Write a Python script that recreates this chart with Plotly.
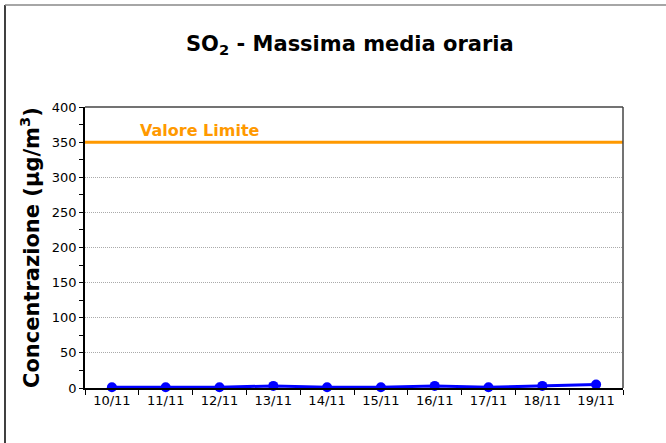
import plotly.graph_objects as go

dates = ["10/11", "11/11", "12/11", "13/11", "14/11", "15/11", "16/11", "17/11", "18/11", "19/11"]
so2_values = [1, 1, 1, 3, 1, 1, 3, 1, 3, 5]
limit_value = 350
limit_label = "Valore Limite"
title_text = "SO<sub>2</sub> - Massima media oraria"
y_title = "Concentrazione (µg/m<sup>3</sup>)"

idx = list(range(len(dates)))
font_family = "DejaVu Sans, Verdana, sans-serif"

fig = go.Figure()
fig.add_trace(go.Scatter(
    x=[-0.5, len(dates) - 0.5], y=[limit_value, limit_value],
    mode="lines", line=dict(color="#FF9900", width=3),
    hoverinfo="skip", showlegend=False, cliponaxis=False))
fig.add_trace(go.Scatter(
    x=idx, y=so2_values, mode="lines+markers",
    line=dict(color="#0000FF", width=3),
    marker=dict(color="#0000FF", size=10),
    showlegend=False, cliponaxis=False))

fig.update_layout(
    width=666, height=443,
    margin=dict(l=85, r=43, t=107, b=55),
    paper_bgcolor="white", plot_bgcolor="white",
    font=dict(family=font_family, size=13, color="black"),
    xaxis=dict(
        range=[-0.5, len(dates) - 0.5],
        tickmode="array", tickvals=idx, ticktext=dates,
        ticks="", showgrid=False, zeroline=False,
        showline=True, linecolor="black", linewidth=1.5,
        tickfont=dict(size=13, family=font_family),
        minor=dict(ticks="outside", tick0=-0.5, dtick=1, ticklen=5, tickcolor="black", showgrid=False),
        mirror=False,
    ),
    yaxis=dict(
        range=[0, 400], dtick=50, tick0=0,
        ticks="outside", ticklen=4, tickcolor="black",
        showgrid=True, gridcolor="#AAAAAA", griddash="1px,1px", gridwidth=1,
        zeroline=False,
        showline=True, linecolor="black", linewidth=1.5,
        tickfont=dict(size=13, family=font_family),
        minor=dict(ticks="outside", dtick=25, ticklen=4, tickcolor="black", showgrid=False),
    ),
    shapes=[
        dict(type="line", xref="paper", yref="paper", x0=0, x1=1, y0=1, y1=1,
             line=dict(color="#444444", width=1.5)),
        dict(type="line", xref="paper", yref="paper", x0=1, x1=1, y0=0, y1=1,
             line=dict(color="#444444", width=1.5)),
        dict(type="line", xref="paper", yref="paper", x0=-0.1487, x1=-0.1487, y0=-0.3, y1=1.363,
             line=dict(color="black", width=1.5)),
        dict(type="line", xref="paper", yref="paper", x0=-0.1487, x1=1.2, y0=1.363, y1=1.363,
             line=dict(color="#888888", width=1.5)),
    ],
    annotations=[
        dict(text="<b>" + title_text + "</b>", xref="paper", yref="paper",
             x=0.4926, y=(388 - 45) / 281, xanchor="center", yanchor="middle",
             showarrow=False, font=dict(size=21, family=font_family, color="black")),
        dict(text="<b>" + y_title + "</b>", xref="paper", yref="paper",
             x=(30 - 85) / 538, y=(388 - 248) / 281, xanchor="center", yanchor="middle",
             textangle=-90, showarrow=False,
             font=dict(size=21, family=font_family, color="black")),
        dict(text="<b>" + limit_label + "</b>", xref="x", yref="y",
             x=-0.5, y=limit_value, xshift=53, yshift=12, xanchor="left", yanchor="middle",
             showarrow=False, font=dict(size=16, family=font_family, color="#FF9900")),
    ],
)

fig.write_html("out.html", config={"displayModeBar": False},
               post_script="document.body.style.margin='0px';")
